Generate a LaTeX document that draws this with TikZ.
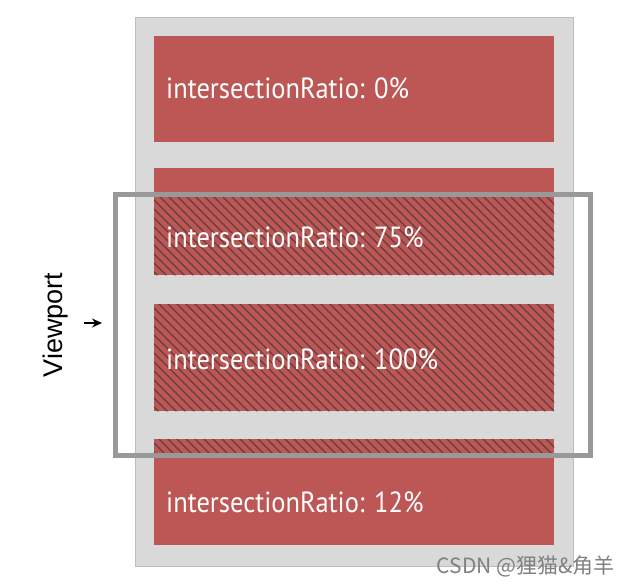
\documentclass[tikz,border=0pt]{standalone}
\usepackage{fontspec}
\setmainfont{PT Sans}
\newfontfamily\vfont{Liberation Sans}
\newfontfamily\cjk{Noto Sans CJK SC}
\usetikzlibrary{arrows.meta}
\definecolor{boxred}{HTML}{BC5756}
\definecolor{panelgray}{HTML}{D9D9D9}
\definecolor{panelline}{HTML}{BDBDBD}
\definecolor{vpgray}{HTML}{999999}
\definecolor{hatchc}{HTML}{3C3232}
\newcommand{\tallish}[1]{\scalebox{1}[1.1]{#1}}
\tikzset{
  panel/.style={draw=panelline, line width=1pt, fill=panelgray, inner sep=0pt},
  redbox/.style={fill=boxred, inner sep=0pt, minimum width=400pt, minimum height=106pt, anchor=north west},
  boxlabel/.style={text=white, anchor=base west, inner sep=0pt, font=\fontsize{26.5}{30}\selectfont},
  hatch/.style={draw=hatchc, line width=1.1pt, opacity=0.7},
  viewport/.style={draw=vpgray, line width=5pt, inner sep=0pt, minimum width=475pt, minimum height=261pt},
  vlabel/.style={rotate=90, font=\vfont\fontsize{27}{30}\selectfont, inner sep=0pt},
  wmark/.style={text=gray, font=\cjk\fontsize{21}{24}\selectfont, inner sep=0pt, anchor=east}
}
\begin{document}
\begin{tikzpicture}[x=1pt,y=-1pt]
\useasboundingbox (0,0) rectangle (627,587);
\node[panel, minimum width=438pt, minimum height=549pt, anchor=north west] (panel) at (135,17) {};
\node[redbox] (b1) at (154,36) {};
\node[redbox, minimum height=107pt] (b2) at (154,168) {};
\node[redbox, minimum height=107pt] (b3) at (154,304) {};
\node[redbox] (b4) at (154,439) {};
\begin{scope}
  \clip (115,194) rectangle (590,455);
  \clip (b2.north west) rectangle (b2.south east)
        (b3.north west) rectangle (b3.south east)
        (b4.north west) rectangle (b4.south east);
  \foreach \x in {-300,-291,...,600} {
    \draw[hatch] (\x,160) -- ++(330,330);
  }
\end{scope}
\node[boxlabel] (t1) at (166,98) {\tallish{intersectionRatio: 0\%}};
\node[boxlabel] (t2) at (166,247) {\tallish{intersectionRatio: 75\%}};
\node[boxlabel] (t3) at (166,369) {\tallish{intersectionRatio: 100\%}};
\node[boxlabel] (t4) at (166,512) {\tallish{intersectionRatio: 12\%}};
\node[viewport] (vp) at (352.5,324.5) {};
\node[vlabel] (vl) at (56,325) {Viewport};
\coordinate (as) at (84,323);
\coordinate (ae) at (102,323);
\draw[-{Stealth[length=10pt,width=9pt]}, line width=1.4pt] (as) -- (ae);
\node[wmark] (wm) at (615,566) {CSDN @狸猫\&角羊};
\end{tikzpicture}
\end{document}
